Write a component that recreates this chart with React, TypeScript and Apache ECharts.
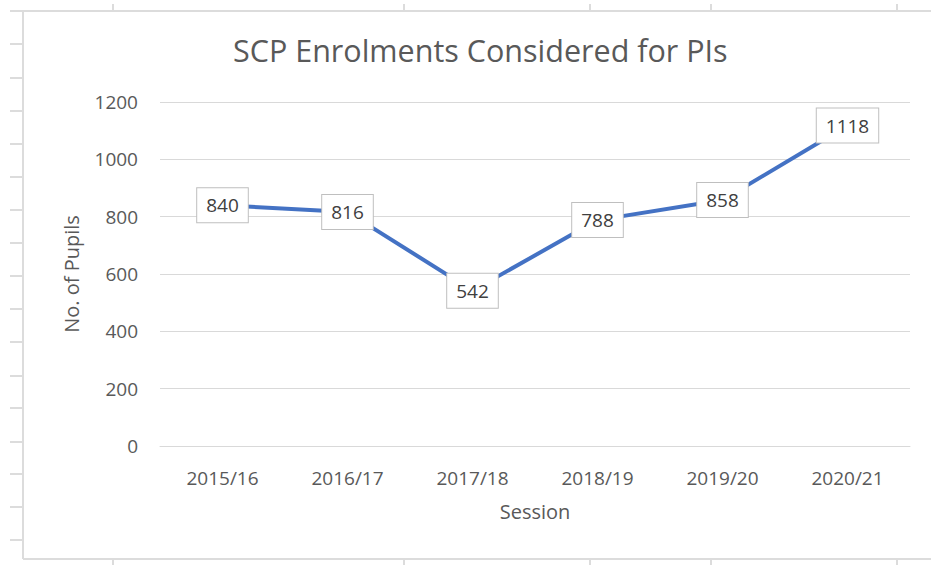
import React, { useEffect, useRef } from "react";
import * as echarts from "echarts";

const sessions = ["2015/16", "2016/17", "2017/18", "2018/19", "2019/20", "2020/21"];
const pupils = [840, 816, 542, 788, 858, 1118];
const titleText = "SCP Enrolments Considered for PIs";
const yAxisName = "No. of Pupils";
const xAxisName = "Session";

// decorative spreadsheet cell tick marks (outside the chart box)
const leftTickYs = [11, 44, 78, 111, 144, 177, 210, 243, 276, 309, 342, 376, 408, 442, 474, 507, 540];
const colTickXs = [113, 404, 590, 711, 897];

const FONT = "'Open Sans', sans-serif";

export default function App() {
  const ref = useRef<HTMLDivElement>(null);
  useEffect(() => {
    if (!ref.current) return;
    const chart = echarts.init(ref.current, null, { renderer: "svg" });
    const lineStyle = { stroke: "#dcdcdc", lineWidth: 2 };
    const graphics: any[] = [
      { type: "line", shape: { x1: 23, y1: 11, x2: 931, y2: 11 }, style: lineStyle, silent: true },
      { type: "line", shape: { x1: 23, y1: 11, x2: 23, y2: 559 }, style: lineStyle, silent: true },
      { type: "line", shape: { x1: 23, y1: 559, x2: 931, y2: 559 }, style: lineStyle, silent: true },
    ];
    leftTickYs.forEach((y) => {
      graphics.push({ type: "line", shape: { x1: 10, y1: y, x2: 23, y2: y }, style: lineStyle, silent: true });
    });
    colTickXs.forEach((x) => {
      graphics.push({ type: "line", shape: { x1: x, y1: 4, x2: x, y2: 11 }, style: lineStyle, silent: true });
      graphics.push({ type: "line", shape: { x1: x, y1: 559, x2: x, y2: 565 }, style: lineStyle, silent: true });
    });
    chart.setOption({
      animation: false,
      backgroundColor: "#ffffff",
      textStyle: { fontFamily: FONT },
      title: {
        text: titleText,
        left: 233,
        top: 34,
        padding: 0,
        textStyle: { fontFamily: FONT, fontSize: 30.5, fontWeight: "normal", color: "#595959" },
      },
      graphic: graphics,
      grid: { left: 160, right: 21, top: 102, bottom: 119 },
      xAxis: {
        type: "category",
        data: sessions,
        boundaryGap: true,
        name: xAxisName,
        nameLocation: "middle",
        nameGap: 55,
        nameTextStyle: { fontFamily: FONT, fontSize: 20, color: "#595959" },
        axisLine: { show: true, lineStyle: { color: "#d9d9d9", width: 1 } },
        axisTick: { show: false },
        axisLabel: { margin: 22, fontFamily: FONT, fontSize: 19, color: "#595959" },
      },
      yAxis: {
        type: "value",
        min: 0,
        max: 1200,
        interval: 200,
        name: yAxisName,
        nameLocation: "middle",
        nameGap: 79,
        nameRotate: 90,
        nameTextStyle: { fontFamily: FONT, fontSize: 20, color: "#595959" },
        axisLine: { show: false },
        axisTick: { show: false },
        axisLabel: {
          margin: 22,
          fontFamily: FONT,
          fontSize: 19,
          color: "#595959",
          formatter: (v: number) => String(v),
        },
        splitLine: { lineStyle: { color: "#d9d9d9", width: 1 } },
      },
      series: [
        {
          type: "line",
          data: pupils,
          showSymbol: true,
          symbol: "circle",
          symbolSize: 1,
          lineStyle: { color: "#4472C4", width: 4 },
          itemStyle: { color: "rgba(0,0,0,0)" },
          label: {
            show: true,
            position: "inside",
            fontFamily: FONT,
            fontSize: 19,
            color: "#404040",
            backgroundColor: "#ffffff",
            borderColor: "#bfbfbf",
            borderWidth: 1,
            padding: [8, 9, 7, 9],
          },
        },
      ],
    });
    return () => chart.dispose();
  }, []);
  return (
    <div
      ref={ref}
      style={{ position: "fixed", left: 0, top: 0, width: 931, height: 565, background: "#fff" }}
    />
  );
}
